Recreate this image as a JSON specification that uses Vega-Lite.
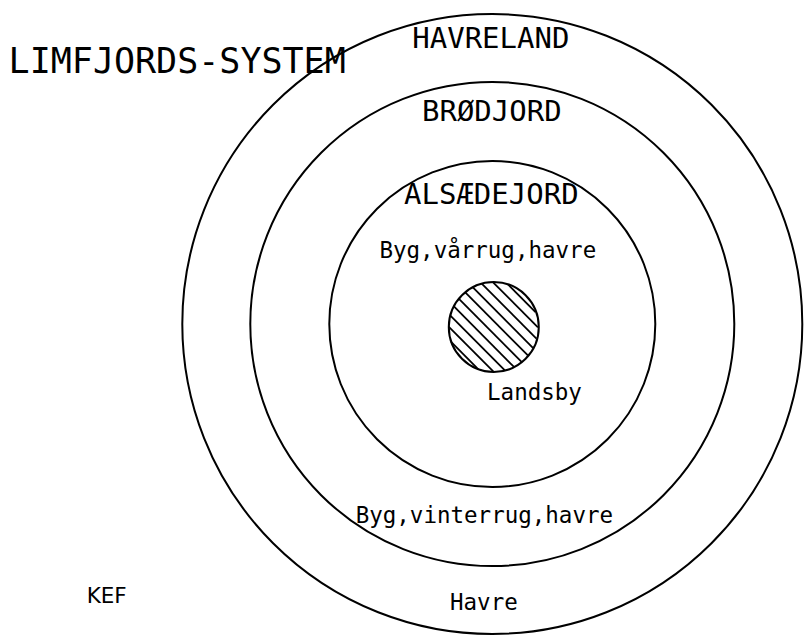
{
  "$schema": "https://vega.github.io/schema/vega-lite/v6.json",
  "width": 804,
  "height": 639,
  "padding": 0,
  "autosize": {"type": "fit", "contains": "padding"},
  "background": "white",
  "config": {"view": {"stroke": null}},
  "datasets": {
    "circles": [
      {"name": "Havreland", "x": 0, "y": 0, "r": 3.10},
      {"name": "Brødjord", "x": 0, "y": 0, "r": 2.42},
      {"name": "Alsædejord", "x": 0, "y": 0, "r": 1.63},
      {"name": "Landsby", "x": 0.015, "y": -0.03, "r": 0.45}
    ],
    "hatch": [
      {"x": -0.2748, "y": 0.3184, "x2": 0.3584, "y2": -0.3148},
      {"x": -0.3384, "y": 0.2548, "x2": 0.2948, "y2": -0.3784},
      {"x": -0.1980, "y": 0.3690, "x2": 0.4090, "y2": -0.2380},
      {"x": -0.3890, "y": 0.1780, "x2": 0.2180, "y2": -0.4290},
      {"x": -0.1065, "y": 0.4047, "x2": 0.4447, "y2": -0.1465},
      {"x": -0.4247, "y": 0.0865, "x2": 0.1265, "y2": -0.4647},
      {"x": 0.0055, "y": 0.4199, "x2": 0.4599, "y2": -0.0345},
      {"x": -0.4399, "y": -0.0255, "x2": 0.0145, "y2": -0.4799},
      {"x": 0.1577, "y": 0.3951, "x2": 0.4351, "y2": 0.1177},
      {"x": -0.4151, "y": -0.1777, "x2": -0.1377, "y2": -0.4551}
    ],
    "labels": [
      {"text": "LIMFJORDS-SYSTEM", "x": -3.175, "y": 2.51, "kind": "title"},
      {"text": "HAVRELAND", "x": -0.015, "y": 2.76, "kind": "zone"},
      {"text": "BRØDJORD", "x": -0.005, "y": 2.03, "kind": "zone"},
      {"text": "ALSÆDEJORD", "x": -0.01, "y": 1.20, "kind": "zone"},
      {"text": "Byg,vårrug,havre", "x": -0.045, "y": 0.66, "kind": "crop"},
      {"text": "Landsby", "x": 0.425, "y": -0.76, "kind": "crop"},
      {"text": "Byg,vinterrug,havre", "x": -0.08, "y": -1.99, "kind": "crop"},
      {"text": "Havre", "x": -0.085, "y": -2.86, "kind": "crop"},
      {"text": "KEF", "x": -3.885, "y": -2.79, "kind": "credit"}
    ]
  },
  "encoding": {
    "x": {"field": "x", "type": "quantitative", "scale": {"domain": [-4.96, 3.08], "nice": false, "zero": false}, "axis": null},
    "y": {"field": "y", "type": "quantitative", "scale": {"domain": [-3.15, 3.24], "nice": false, "zero": false}, "axis": null}
  },
  "layer": [
    {
      "data": {"name": "circles"},
      "mark": {"type": "point", "shape": "circle", "filled": false, "stroke": "black", "strokeWidth": 2, "opacity": 1},
      "encoding": {
        "size": {"field": "r", "type": "quantitative", "scale": {"type": "pow", "exponent": 2, "domain": [0, 3.1], "range": [0, 384400]}, "legend": null}
      }
    },
    {
      "data": {"name": "hatch"},
      "mark": {"type": "rule", "stroke": "black", "strokeWidth": 1.8},
      "encoding": {
        "x2": {"field": "x2"},
        "y2": {"field": "y2"}
      }
    },
    {
      "data": {"name": "labels"},
      "transform": [{"filter": "datum.kind == 'title'"}],
      "mark": {"type": "text", "font": "DejaVu Sans Mono", "fontSize": 35, "align": "center", "baseline": "alphabetic", "color": "black"},
      "encoding": {"text": {"field": "text"}}
    },
    {
      "data": {"name": "labels"},
      "transform": [{"filter": "datum.kind == 'zone'"}],
      "mark": {"type": "text", "font": "DejaVu Sans Mono", "fontSize": 29, "align": "center", "baseline": "alphabetic", "color": "black"},
      "encoding": {"text": {"field": "text"}}
    },
    {
      "data": {"name": "labels"},
      "transform": [{"filter": "datum.kind == 'crop'"}],
      "mark": {"type": "text", "font": "DejaVu Sans Mono", "fontSize": 22.5, "align": "center", "baseline": "alphabetic", "color": "black"},
      "encoding": {"text": {"field": "text"}}
    },
    {
      "data": {"name": "labels"},
      "transform": [{"filter": "datum.kind == 'credit'"}],
      "mark": {"type": "text", "font": "DejaVu Sans", "fontSize": 21.5, "align": "center", "baseline": "alphabetic", "color": "black"},
      "encoding": {"text": {"field": "text"}}
    }
  ]
}
